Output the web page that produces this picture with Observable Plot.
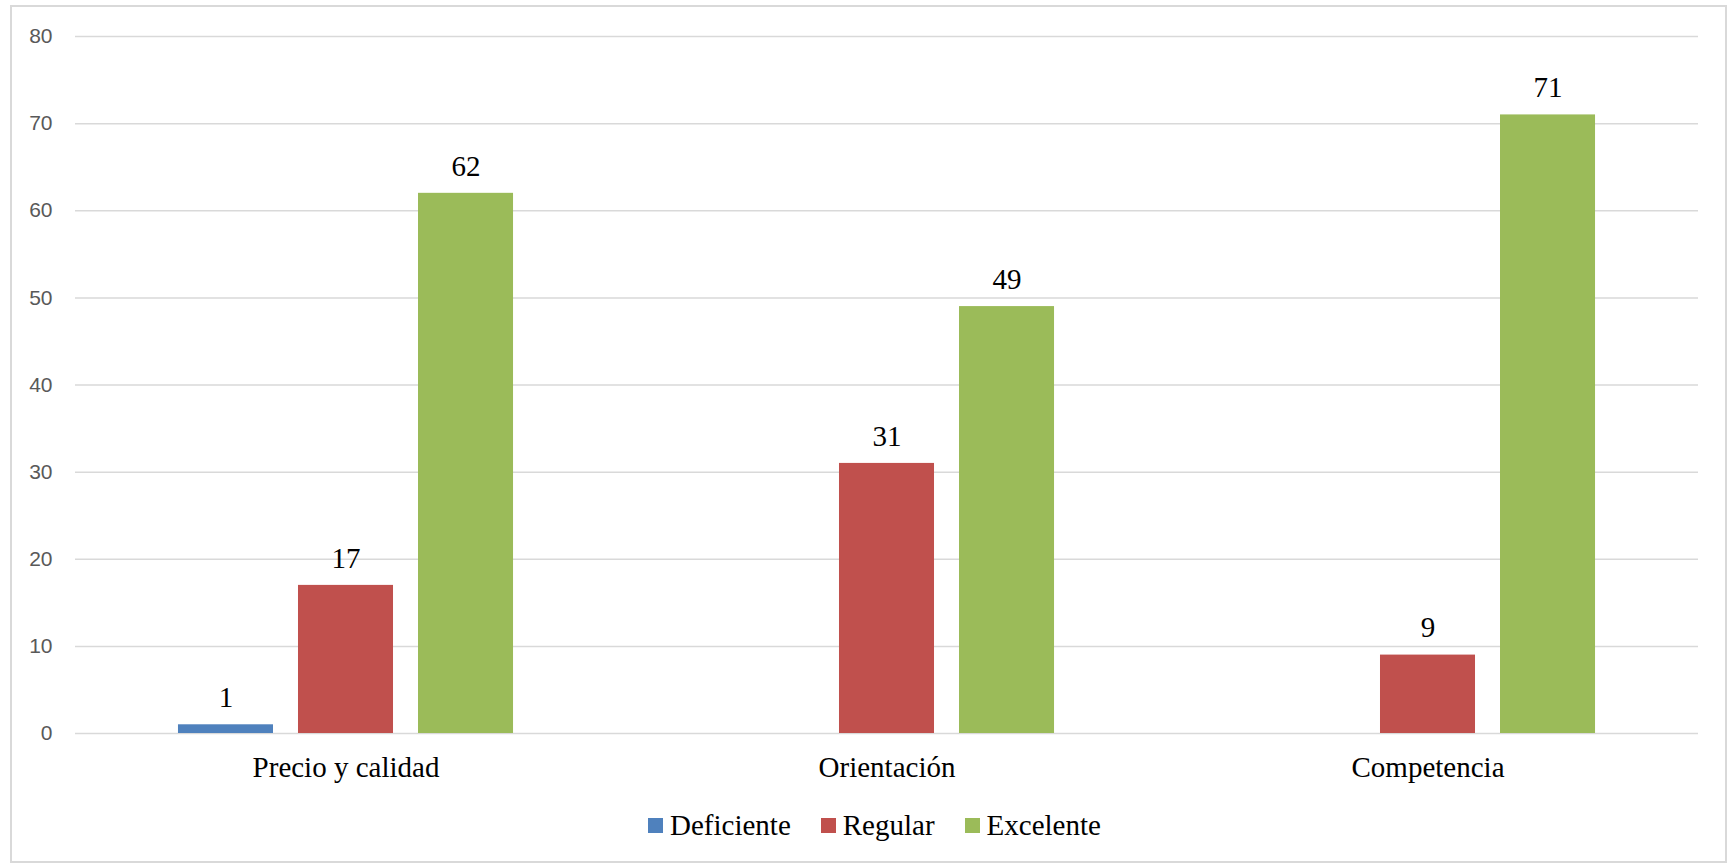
<!DOCTYPE html>
<html>
<head>
<meta charset="utf-8">
<script src="https://cdn.jsdelivr.net/npm/d3@7"></script>
<script src="https://cdn.jsdelivr.net/npm/@observablehq/plot@0.6"></script>
<style>
  html, body { margin: 0; padding: 0; background: #fff; overflow: hidden; }
  #frame { position: absolute; left: 10px; top: 5px; width: 1717px; height: 858px; box-sizing: border-box; border: 2px solid #d9d9d9; }
  #chart { position: absolute; left: 0; top: 0; }
  #legend { position: absolute; left: 648px; top: 809px; display: flex; align-items: center; font-family: "Liberation Serif", "Times New Roman", serif; font-size: 29px; line-height: 33px; color: #000; }
  .item { display: flex; align-items: center; margin-right: 30px; }
  .sw { width: 15px; height: 15px; margin-right: 7px; }
</style>
</head>
<body>
<div id="frame"></div>
<div id="chart"></div>
<div id="legend"></div>
<script>
const categories = ["Precio y calidad", "Orientación", "Competencia"];
const series = ["Deficiente", "Regular", "Excelente"];
const deficiente = [1, 0, 0];
const regular = [17, 31, 9];
const excelente = [62, 49, 71];
const colors = ["#4F81BD", "#C0504D", "#9BBB59"];
const yTicks = [0, 10, 20, 30, 40, 50, 60, 70, 80];

const values = [deficiente, regular, excelente];
const data = [];
categories.forEach((c, i) => {
  series.forEach((s, j) => data.push({category: c, series: s, value: values[j][i]}));
});

const chart = Plot.plot({
  width: 1727,
  height: 790,
  marginTop: 36,
  marginBottom: 57,
  marginLeft: 75,
  marginRight: 29,
  style: {background: "transparent"},
  fx: {domain: categories, padding: 0, round: false},
  x: {domain: series, paddingInner: 0.2083, paddingOuter: 0.858, round: false, axis: null},
  y: {domain: [0, 80]},
  color: {domain: series, range: colors},
  marks: [
    Plot.gridY(yTicks, {stroke: "#d9d9d9", strokeOpacity: 1, strokeWidth: 1.5}),
    Plot.barY(data, {fx: "category", x: "series", y: "value", fill: "series"}),
    Plot.text(data.filter(d => d.value > 0), {fx: "category", x: "series", y: "value", text: d => String(d.value), dy: -27, fontSize: 29, fontFamily: "Liberation Serif", fill: "#000"}),
    Plot.axisY(yTicks, {tickSize: 0, tickPadding: 23, fontSize: 21, fontFamily: "Liberation Sans", fill: "#595959", label: null}),
    Plot.axisFx({anchor: "bottom", tickSize: 0, tickPadding: 23, fontSize: 29, fontFamily: "Liberation Serif", fill: "#000", label: null})
  ]
});
document.getElementById("chart").appendChild(chart);

const legend = document.getElementById("legend");
series.forEach((s, i) => {
  const item = document.createElement("div");
  item.className = "item";
  const sw = document.createElement("div");
  sw.className = "sw";
  sw.style.background = colors[i];
  const t = document.createElement("span");
  t.textContent = s;
  item.appendChild(sw);
  item.appendChild(t);
  legend.appendChild(item);
});
</script>
</body>
</html>
